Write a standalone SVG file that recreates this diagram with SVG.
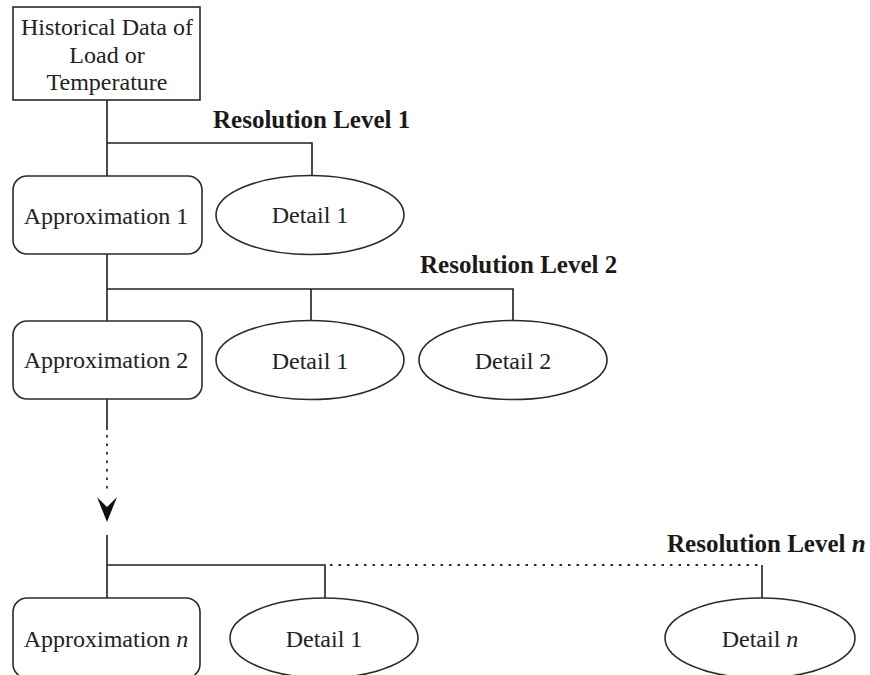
<svg xmlns="http://www.w3.org/2000/svg" width="870" height="675" viewBox="0 0 870 675">
  <style>
    .shape { fill: #ffffff; stroke: #2a2a2a; stroke-width: 1.6; }
    .wire { fill: none; stroke: #1e1e1e; stroke-width: 1.6; }
    .dots { fill: none; stroke: #2a2a2a; stroke-width: 1.8; stroke-dasharray: 2.5 6; }
    .lbl { font-family: "Liberation Serif", "Times New Roman", serif; font-size: 24px; fill: #222; text-anchor: middle; }
    .lvl { font-family: "Liberation Serif", "Times New Roman", serif; font-size: 25px; font-weight: bold; fill: #1a1a1a; }
  </style>
  <rect width="870" height="675" fill="#ffffff"/>

  <!-- connectors -->
  <g id="connectors">
    <!-- level 1 -->
    <path class="wire" d="M107,100 V176 M107,143 H312 V175"/>
    <!-- level 2 -->
    <path class="wire" d="M107,254 V321 M107,289 H513 V320 M311,289 V320"/>
    <!-- continuation to level n -->
    <path class="wire" d="M107,399 V430"/>
    <path class="dots" d="M107,435 V494"/>
    <polygon points="97,497 107,507 117,497 107,522" fill="#111"/>
    <!-- level n -->
    <path class="wire" d="M107,535 V598 M107,565 H325 V598"/>
    <path class="dots" d="M330,565 H758"/>
    <path class="wire" d="M762,565 V598"/>
  </g>

  <g id="source">
    <rect class="shape" x="13" y="7" width="187" height="93"/>
    <text class="lbl" x="107" y="35">Historical Data of</text>
    <text class="lbl" x="107" y="63">Load or</text>
    <text class="lbl" x="107" y="90">Temperature</text>
  </g>

  <text id="level-1" class="lvl" x="213" y="128">Resolution Level 1</text>
  <text id="level-2" class="lvl" x="420" y="273">Resolution Level 2</text>
  <text id="level-n" class="lvl" x="667" y="552">Resolution Level <tspan font-style="italic">n</tspan></text>

  <g id="approx-1">
    <rect class="shape" x="13" y="176" width="189" height="78" rx="14"/>
    <text class="lbl" x="106" y="224">Approximation 1</text>
  </g>
  <g id="detail-1-1">
    <ellipse class="shape" cx="310" cy="215" rx="94" ry="39.5"/>
    <text class="lbl" x="310" y="223">Detail 1</text>
  </g>

  <g id="approx-2">
    <rect class="shape" x="13" y="321" width="189" height="78" rx="14"/>
    <text class="lbl" x="106" y="368">Approximation 2</text>
  </g>
  <g id="detail-2-1">
    <ellipse class="shape" cx="310" cy="360" rx="94" ry="39.5"/>
    <text class="lbl" x="310" y="369">Detail 1</text>
  </g>
  <g id="detail-2-2">
    <ellipse class="shape" cx="513" cy="360" rx="94" ry="39.5"/>
    <text class="lbl" x="513" y="369">Detail 2</text>
  </g>

  <g id="approx-n">
    <rect class="shape" x="13" y="598" width="187" height="80" rx="14"/>
    <text class="lbl" x="106" y="647">Approximation <tspan font-style="italic">n</tspan></text>
  </g>
  <g id="detail-n-1">
    <ellipse class="shape" cx="324" cy="638" rx="94" ry="40"/>
    <text class="lbl" x="324" y="647">Detail 1</text>
  </g>
  <g id="detail-n-n">
    <ellipse class="shape" cx="760" cy="638" rx="95" ry="40"/>
    <text class="lbl" x="760" y="647">Detail <tspan font-style="italic">n</tspan></text>
  </g>
</svg>
